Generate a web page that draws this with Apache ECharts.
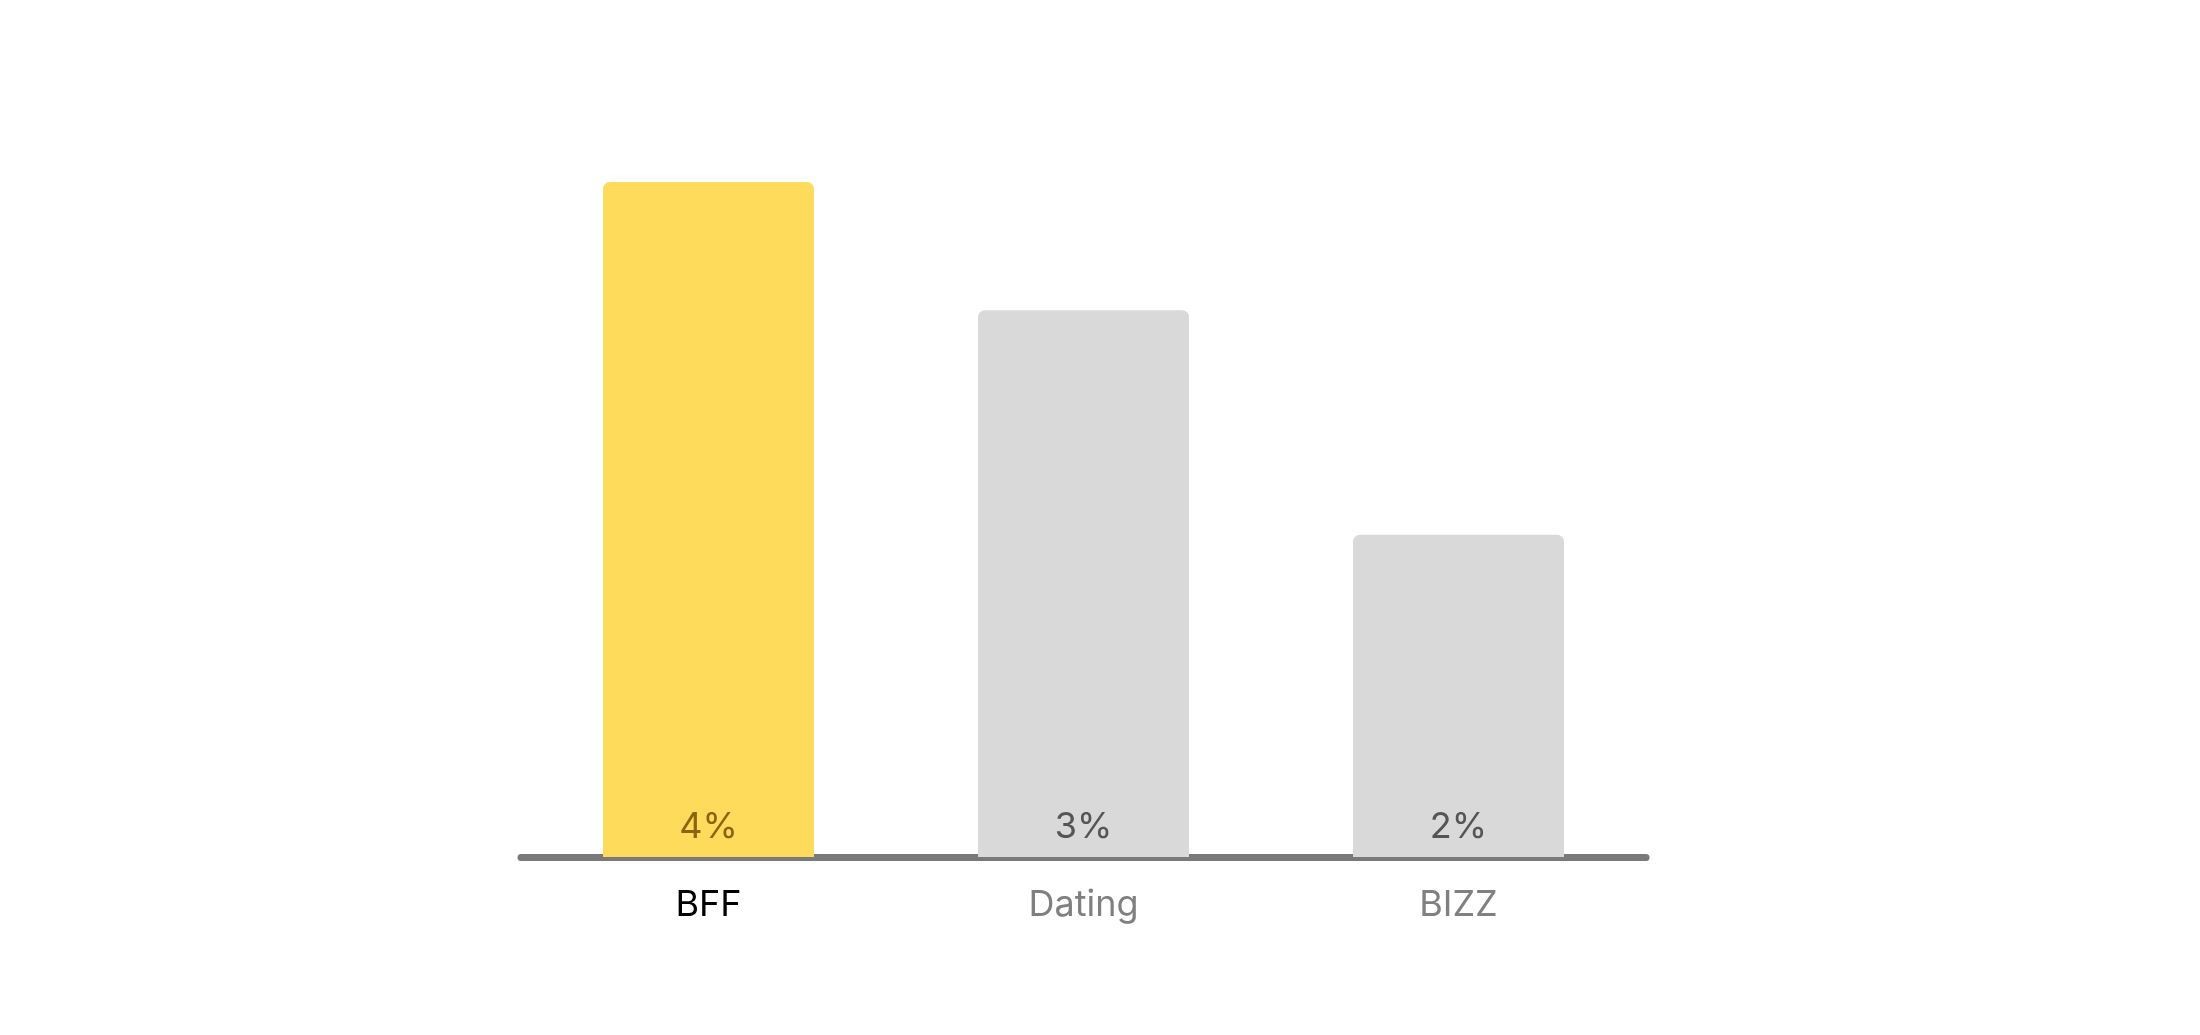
<!DOCTYPE html>
<html><head><meta charset="utf-8">
<script src="https://cdn.jsdelivr.net/npm/echarts@6/dist/echarts.min.js"></script>
<style>html,body{margin:0;padding:0;background:#fff}#c{width:2200px;height:1035px}</style>
</head><body><div id="c"></div>
<script>
const categories = ['BFF', 'Dating', 'BIZZ'];
const values = [4.0, 3.24, 1.91];
const barColors = ['#FFDB5C', '#D9D9D9', '#D9D9D9'];
const labelColors = ['#8A6410', '#555555', '#555555'];
const catColors = ['#000000', '#808080', '#808080'];

const chart = echarts.init(document.getElementById('c'));
chart.setOption({
  animation: false,
  grid: { left: 521, width: 1125, top: 182, bottom: 178 },
  xAxis: {
    type: 'category',
    data: categories.map((c, i) => ({ value: c, textStyle: { color: catColors[i] } })),
    axisLine: { lineStyle: { color: '#7a7a7a', width: 7, cap: 'round' } },
    axisTick: { show: false },
    axisLabel: { fontSize: 36, fontFamily: 'Inter', margin: 30 }
  },
  yAxis: { type: 'value', min: 0, max: 4, show: false, splitLine: { show: false } },
  series: [{
    type: 'bar',
    barWidth: 211,
    data: values.map((v, i) => ({
      value: v,
      itemStyle: { color: barColors[i], borderRadius: [7, 7, 0, 0] },
      label: { color: labelColors[i] }
    })),
    label: {
      show: true, position: 'insideBottom', distance: 12,
      fontSize: 36, fontFamily: 'Inter',
      formatter: p => Math.round(p.value) + '%'
    }
  }]
});
</script></body></html>
